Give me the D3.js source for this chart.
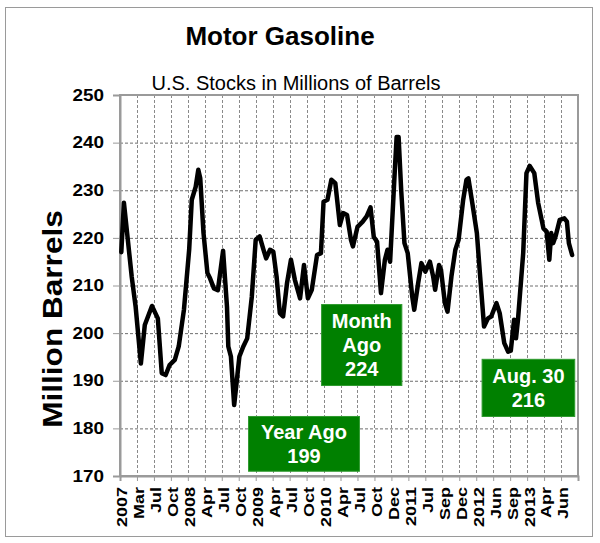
<!DOCTYPE html>
<html>
<head>
<meta charset="utf-8">
<script src="https://cdn.jsdelivr.net/npm/d3@7"></script>
<style>
  html, body { margin: 0; padding: 0; background: #fff; }
  svg { display: block; font-family: "Liberation Sans", Arial, sans-serif; }
</style>
</head>
<body>
<svg id="chart" width="600" height="543"></svg>
<script>
// ---- data ----
const title = "Motor Gasoline";
const subtitle = "U.S. Stocks in Millions of Barrels";
const yTitle = "Million Barrels";
const yTicks = [170, 180, 190, 200, 210, 220, 230, 240, 250];
// category labels: one every 13 weeks starting at week 0
const xLabels = ["2007","Mar","Jul","Oct","2008","Apr","Jul","Oct","2009","Apr","Jul","Oct",
  "2010","Apr","Jul","Oct","Dec","2011","Jul","Sep","Dec","2012","Jun","Sep","2013","Apr","Jun"];
const weeksPerLabel = 13;
// weekly series, sampled at its turning points (week index from Jan 2007)
const weeks = [1,3,9,12,16,19,24.5,29,32,35,38,42,45,49,53,55,58,60,61.5,64,67,69,72,75,79,82,83,85,87.5,
  91.5,94.5,97.5,101,104,107,110,112,115,117.5,120,122.5,125,128,131,134,138,141,144,147,151,154,156,159,
  162,165,168.5,171,174,177,178.5,182,186,189,192,194.5,197,200,203,205,207,210.5,212,213.5,215.5,218,
  220.5,224,225.5,228.5,231,234,237.5,240,241.5,244.5,246,249,251,254,257,259.5,263,265.5,267,270,273.5,
  276,279,282,284.5,288.5,291,294.5,297.5,299.5,302,303.5,305,309,311.5,314,317.5,320.5,324.5,327,329,
  330.5,332,334,337,340.5,342.5,344,346.5];
const stocks = [217,227.4,211.8,205.5,193.6,201.7,205.7,203.1,191.6,191.2,193.3,194.4,197.2,204.9,217.5,
  228,230.7,234.3,232.5,221,212.6,211.5,209.4,209,217.3,205.5,197.2,195.1,184.9,
  195.1,197.2,198.9,207.6,219.6,220.3,217.5,215.7,217.5,217.1,211.9,204.2,203.5,210.5,215.4,211.2,207.3,
  214.3,207.3,209.1,216.4,216.8,227.6,228,
  232.2,231.5,222.7,225.2,224.8,219.6,218.2,222.3,223.4,224.5,226.4,220.2,219.2,208.4,215.4,217.5,215,
  233.6,241.2,241.2,230,218.9,
  216.8,207.6,204.9,210.5,214.7,212.9,215,211.9,209.1,214.3,213.3,206.3,204.5,211.9,217.5,219.6,228,
  232.2,232.5,227.3,221,
  211.9,201.4,203.1,203.5,206.3,204.2,197.9,196.1,196.3,202.8,198.9,202.8,216.8,233.6,235.1,233.6,227.3,
  222,221.3,215.4,
  221,218.9,220.5,223.8,224.1,223.4,218.9,216.4];
// annotation callouts
const callouts = [
  { lines: ["Year Ago", "199"], week: 0, value: 0 },
  { lines: ["Month", "Ago", "224"], week: 0, value: 0 },
  { lines: ["Aug. 30", "216"], week: 0, value: 0 }
];

// ---- layout ----
const svg = d3.select("#chart");
const plot = { left: 120, right: 578, top: 95, bottom: 476 };
const totalWeeks = xLabels.length * weeksPerLabel;

const x = d3.scaleLinear().domain([0, totalWeeks]).range([plot.left, plot.right]);
const y = d3.scaleLinear().domain([170, 250]).range([plot.bottom, plot.top]);

// outer frame
svg.append("rect").attr("x", 5.5).attr("y", 7.5).attr("width", 587).attr("height", 529)
  .attr("fill", "#fff").attr("stroke", "#9a9a9a").attr("stroke-width", 1);

// titles
svg.append("text").attr("x", 280).attr("y", 45).attr("text-anchor", "middle")
  .attr("font-size", 26).attr("font-weight", "bold").attr("fill", "#000").text(title);
svg.append("text").attr("x", 296).attr("y", 90).attr("text-anchor", "middle")
  .attr("font-size", 20).attr("fill", "#000").text(subtitle);

// horizontal grid
svg.append("g").selectAll("line").data(yTicks.slice(1, -1)).join("line")
  .attr("x1", plot.left).attr("x2", plot.right)
  .attr("y1", d => y(d) + 0.5).attr("y2", d => y(d) + 0.5)
  .attr("stroke", "#6e6e6e").attr("stroke-width", 1).attr("stroke-dasharray", "3,2");

// vertical grid
const labelWeeks = xLabels.map((d, i) => i * weeksPerLabel);
svg.append("g").selectAll("line").data(labelWeeks.slice(1)).join("line")
  .attr("x1", d => Math.round(x(d)) + 0.5).attr("x2", d => Math.round(x(d)) + 0.5)
  .attr("y1", plot.top).attr("y2", plot.bottom)
  .attr("stroke", "#8a8a8a").attr("stroke-width", 1).attr("stroke-dasharray", "3,2");

// plot border
svg.append("rect").attr("x", plot.left).attr("y", plot.top)
  .attr("width", plot.right - plot.left).attr("height", plot.bottom - plot.top)
  .attr("fill", "none").attr("stroke", "#9a9a9a").attr("stroke-width", 2);

// y axis
const yAxis = d3.axisLeft(y).tickValues(yTicks).tickSize(7).tickPadding(9).tickFormat(d3.format("d"));
const gy = svg.append("g").attr("transform", `translate(${plot.left},0)`).call(yAxis);
gy.select(".domain").attr("stroke", "#9a9a9a").attr("stroke-width", 2);
gy.selectAll(".tick line").attr("stroke", "#9a9a9a");
gy.selectAll(".tick text").attr("font-size", 16).attr("font-weight", "bold")
  .attr("fill", "#000").attr("font-family", "Liberation Sans, Arial, sans-serif")
  .attr("transform", function() { return null; })
  .each(function() {
    const t = d3.select(this);
    const xx = +t.attr("x");
    t.attr("x", null).attr("transform", `translate(${xx},0) scale(1.18,1)`);
  });

// x axis
const xAxis = d3.axisBottom(x).tickValues(labelWeeks).tickSize(5).tickFormat((d, i) => xLabels[i]);
const gx = svg.append("g").attr("transform", `translate(0,${plot.bottom})`).call(xAxis);
gx.select(".domain").attr("stroke", "#9a9a9a").attr("stroke-width", 2);
gx.selectAll(".tick line").attr("stroke", "#9a9a9a");
gx.selectAll(".tick text").attr("font-size", 15).attr("font-weight", "bold")
  .attr("fill", "#000").attr("font-family", "Liberation Sans, Arial, sans-serif")
  .attr("text-anchor", "end").attr("y", null).attr("dy", null)
  .attr("transform", "translate(1.5,11) rotate(-90) scale(1.2,1)")
  .attr("x", 0).attr("y", 0).attr("dy", "0.36em");

// y title
svg.append("text").attr("transform", "translate(52,319) rotate(-90) scale(1.17,1)")
  .attr("text-anchor", "middle").attr("dy", "0.36em")
  .attr("font-size", 27).attr("font-weight", "bold").attr("fill", "#000").text(yTitle);

// line
const series = d3.zip(weeks, stocks);
svg.append("path").datum(series)
  .attr("fill", "none").attr("stroke", "#000").attr("stroke-width", 4.5)
  .attr("stroke-linejoin", "round").attr("stroke-linecap", "round")
  .attr("d", d3.line().x(d => x(d[0])).y(d => y(d[1])));

// callout boxes (positions in data space)
const boxes = [
  { lines: callouts[0].lines, w0: 98.5, w1: 183.5, v0: 171, v1: 182.5 },
  { lines: callouts[1].lines, w0: 154.5, w1: 216, v0: 189, v1: 206 },
  { lines: callouts[2].lines, w0: 277.5, w1: 348.5, v0: 182.5, v1: 194.5 }
];
const gb = svg.append("g");
boxes.forEach(b => {
  const x0 = x(b.w0), x1 = x(b.w1), y0 = y(b.v1), y1 = y(b.v0);
  gb.append("rect").attr("x", x0).attr("y", y0).attr("width", x1 - x0).attr("height", y1 - y0)
    .attr("fill", "#008000").attr("stroke", "#2f9a2f").attr("stroke-width", 1);
  const cx = (x0 + x1) / 2, cy = (y0 + y1) / 2;
  const lh = 24;
  const n = b.lines.length;
  b.lines.forEach((t, i) => {
    gb.append("text").attr("x", cx).attr("y", cy + (i - (n - 1) / 2) * lh)
      .attr("dy", "0.36em").attr("text-anchor", "middle")
      .attr("font-size", 20).attr("font-weight", "bold").attr("fill", "#fff").text(t);
  });
});
</script>
</body>
</html>
